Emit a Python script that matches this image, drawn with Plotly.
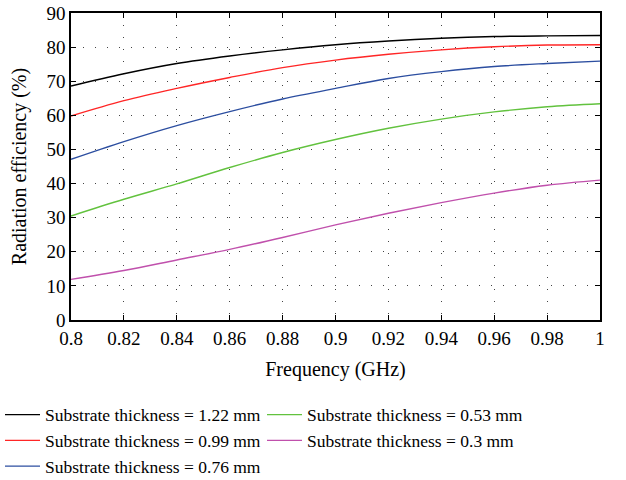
import plotly.graph_objects as go

freq = [0.80, 0.82, 0.84, 0.86, 0.88, 0.90, 0.92, 0.94, 0.96, 0.98, 1.00]
eff_122 = [68.6, 72.2, 75.2, 77.4, 79.2, 80.7, 81.8, 82.6, 83.1, 83.3, 83.4]
eff_099 = [59.8, 64.3, 67.9, 71.1, 74.0, 76.2, 77.9, 79.2, 80.1, 80.6, 80.7]
eff_076 = [47.1, 52.3, 57.0, 61.1, 64.8, 67.9, 70.8, 72.8, 74.3, 75.2, 75.9]
eff_053 = [30.5, 35.4, 39.9, 44.7, 49.1, 52.9, 56.2, 58.9, 61.0, 62.5, 63.4]
eff_030 = [11.9, 14.5, 17.6, 20.7, 24.2, 27.9, 31.3, 34.4, 37.2, 39.5, 41.0]

x_tickvals = [0.8, 0.82, 0.84, 0.86, 0.88, 0.9, 0.92, 0.94, 0.96, 0.98, 1.0]
x_ticktext = ["0.8", "0.82", "0.84", "0.86", "0.88", "0.9", "0.92", "0.94", "0.96", "0.98", "1"]
y_tickvals = [0, 10, 20, 30, 40, 50, 60, 70, 80, 90]

# order chosen so the row-wise legend shows the reference's two-column layout
series = [
    ("Substrate thickness = 1.22 mm", eff_122, "#000000"),
    ("Substrate thickness = 0.53 mm", eff_053, "#62c23e"),
    ("Substrate thickness = 0.99 mm", eff_099, "#ff2626"),
    ("Substrate thickness = 0.3 mm", eff_030, "#c050ac"),
    ("Substrate thickness = 0.76 mm", eff_076, "#2c4ea0"),
]

FONT = "Liberation Serif"

fig = go.Figure()
for name, vals, color in series:
    fig.add_trace(go.Scatter(x=freq, y=vals, mode="lines", name=name,
                             line=dict(color=color, width=1.4, shape="spline", smoothing=1.0)))

axis_common = dict(
    showline=True, linecolor="black", linewidth=1.5, mirror="ticks",
    ticks="inside", ticklen=5, tickcolor="black", tickwidth=1,
    showgrid=True, gridcolor="#444444", gridwidth=1, griddash="1px,11px",
    zeroline=False, automargin=False, ticklabeloverflow="allow",
    tickfont=dict(family=FONT, size=19, color="black"),
)

fig.update_xaxes(range=[0.8, 1.0], tickvals=x_tickvals, ticktext=x_ticktext,
                 title=dict(text="Frequency (GHz)", font=dict(family=FONT, size=20, color="black"), standoff=14),
                 **axis_common)
fig.update_yaxes(range=[0, 90], tickvals=y_tickvals,
                 title=dict(text="Radiation efficiency (%)", font=dict(family=FONT, size=20, color="black"), standoff=14),
                 **axis_common)

fig.update_layout(
    width=626, height=480,
    margin=dict(l=71, r=26, t=13, b=160),
    plot_bgcolor="white", paper_bgcolor="white",
    font=dict(family=FONT, size=17.5, color="black"),
    legend=dict(orientation="h", xref="container", x=0, xanchor="left",
                yref="container", y=0.1735, yanchor="top",
                entrywidth=212, entrywidthmode="pixels", font=dict(family=FONT, size=17.5),
                itemwidth=35, tracegroupgap=0, bgcolor="rgba(0,0,0,0)"),
    showlegend=True,
)

fig.write_html("out.html", config={"displayModeBar": False},
               post_script="document.body.style.margin='0';")
